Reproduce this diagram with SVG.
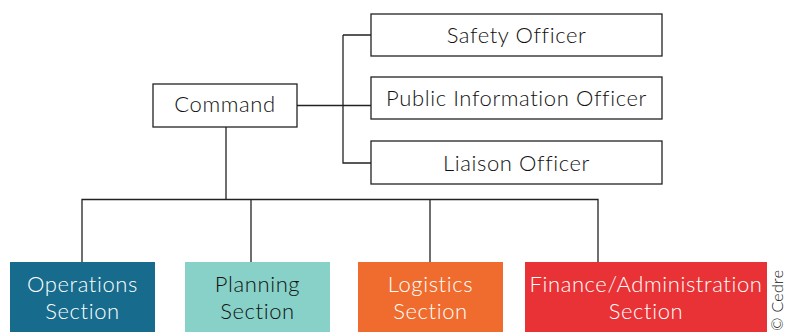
<svg xmlns="http://www.w3.org/2000/svg" width="788" height="332" viewBox="0 0 788 332">
<style>
text{font-family:Lato,"Noto Sans",sans-serif;font-size:22px;font-weight:300;letter-spacing:0.6px;text-anchor:middle}
.box{fill:#fff;stroke:#222;stroke-width:1.3}
.ln{fill:none;stroke:#222;stroke-width:1.3}
.dk{fill:#111}
.wt{fill:#fff}
</style>
<rect width="788" height="332" fill="#fff"/>
<g id="connectors">
<path class="ln" d="M297,105.5H371M343,35V163H371M343,35H371"/>
<path class="ln" d="M226,127V199.5M82,262V199.5H598V262M251,199.5V262M430,199.5V262"/>
</g>
<g id="command"><rect class="box" x="153" y="84" width="144" height="43"/><text class="dk" x="225" y="112">Command</text></g>
<g id="safety"><rect class="box" x="371" y="14" width="291" height="42"/><text class="dk" x="516.5" y="43">Safety Officer</text></g>
<g id="pio"><rect class="box" x="371" y="77" width="291" height="42"/><text class="dk" x="516.5" y="106">Public Information Officer</text></g>
<g id="liaison"><rect class="box" x="371" y="141" width="291" height="43"/><text class="dk" x="516.5" y="171">Liaison Officer</text></g>
<g id="operations"><rect x="10" y="262" width="145" height="72" fill="#176b8c"/><text class="wt" x="82.5" y="292">Operations</text><text class="wt" x="82.5" y="319">Section</text></g>
<g id="planning"><rect x="185" y="262" width="145" height="72" fill="#88d1c8"/><text class="dk" x="257.5" y="292">Planning</text><text class="dk" x="257.5" y="319">Section</text></g>
<g id="logistics"><rect x="358" y="262" width="145" height="72" fill="#ef6c2e"/><text class="wt" x="430.5" y="292">Logistics</text><text class="wt" x="430.5" y="319">Section</text></g>
<g id="finance"><rect x="525" y="262" width="242" height="72" fill="#e93236"/><text class="wt" x="646" y="292">Finance/Administration</text><text class="wt" x="646" y="319">Section</text></g>
<text class="dk" transform="translate(783,331) rotate(-90)" style="font-size:16px;letter-spacing:0.3px;text-anchor:start">© Cedre</text>
</svg>
